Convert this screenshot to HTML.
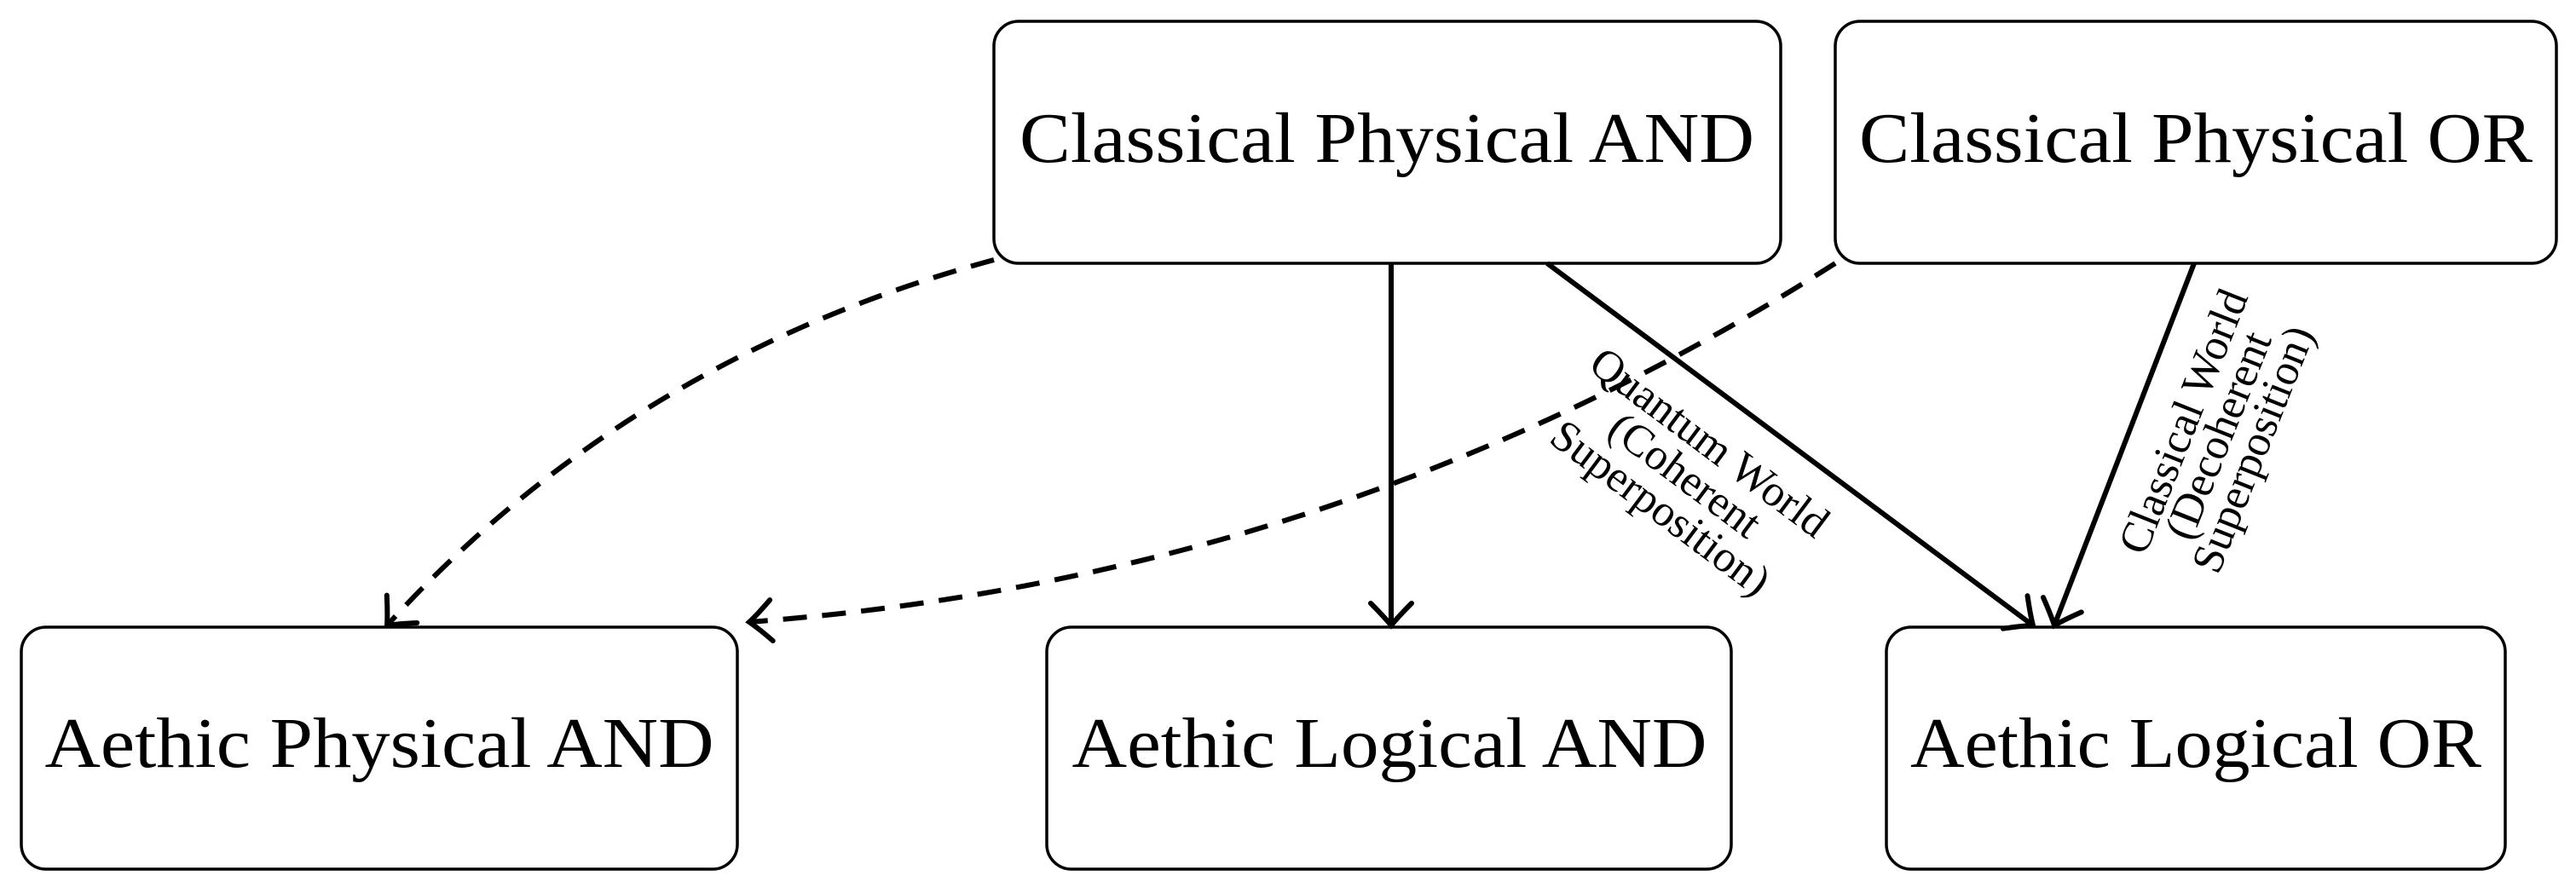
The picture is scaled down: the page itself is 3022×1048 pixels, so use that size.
<!DOCTYPE html>
<html><head><meta charset="utf-8"><style>
html,body{margin:0;padding:0;background:#fff}
svg{display:block}
text{font-family:"Liberation Serif",serif;fill:#000}
</style></head><body>
<svg width="3022" height="1048" viewBox="0 0 3022 1048" xmlns="http://www.w3.org/2000/svg">
<defs>
<marker id="ah" markerUnits="userSpaceOnUse" markerWidth="60" markerHeight="60" refX="0" refY="0" viewBox="-30 -30 60 60" orient="auto" overflow="visible">
<path d="M -26 -24 Q -10 -8 0 0 Q -10 8 -26 24" fill="none" stroke="#000" stroke-width="6" stroke-linecap="round"/>
</marker>
</defs>
<g fill="#fff" stroke="#000" stroke-width="3.5">
<rect x="1166" y="25" width="923" height="284" rx="29"/>
<rect x="2153" y="25" width="846" height="284" rx="29"/>
<rect x="25" y="736" width="840" height="284" rx="29"/>
<rect x="1228" y="736" width="803" height="284" rx="29"/>
<rect x="2213" y="736" width="726" height="284" rx="29"/>
</g>
<g font-size="84" text-anchor="middle">
<text x="1627" y="190" textLength="862" lengthAdjust="spacingAndGlyphs">Classical Physical AND</text>
<text x="2576" y="190" textLength="790" lengthAdjust="spacingAndGlyphs">Classical Physical OR</text>
<text x="445" y="900" textLength="785" lengthAdjust="spacingAndGlyphs">Aethic Physical AND</text>
<text x="1630" y="900" textLength="745" lengthAdjust="spacingAndGlyphs">Aethic Logical AND</text>
<text x="2576" y="900" textLength="670" lengthAdjust="spacingAndGlyphs">Aethic Logical OR</text>
</g>
<g fill="none" stroke="#000" stroke-width="6">
<line x1="1632" y1="309" x2="1632" y2="734" marker-end="url(#ah)"/>
<line x1="1815" y1="309" x2="2385" y2="734" marker-end="url(#ah)"/>
<line x1="2574" y1="309" x2="2410" y2="734" marker-end="url(#ah)"/>
<path d="M 1166 305 Q 740 420 454 734" stroke-dasharray="28 18" marker-end="url(#ah)"/>
<path d="M 2153 309 Q 1574 678 879 730" stroke-dasharray="28 18" marker-end="url(#ah)"/>
</g>
<g font-size="52" text-anchor="middle">
<g transform="translate(1975,560) rotate(36.8)">
<text x="0" y="-34">Quantum World</text>
<text x="0" y="14">(Coherent</text>
<text x="0" y="62">Superposition)</text>
</g>
<g transform="translate(2605,512) rotate(-68.3)">
<text x="0" y="-30">Classical World</text>
<text x="0" y="14">(Decoherent</text>
<text x="0" y="58">Superposition)</text>
</g>
</g>
</svg>
</body></html>
